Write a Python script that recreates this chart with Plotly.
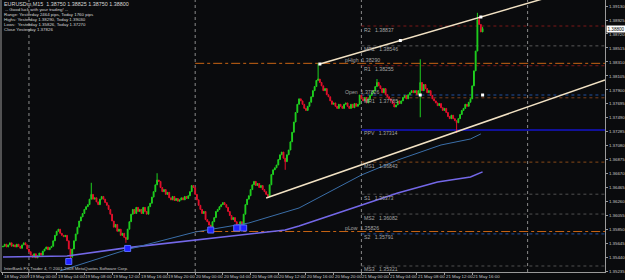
import plotly.graph_objects as go

# ---------------- data (EURUSDm, M15) ----------------
closes = [
    1.3561, 1.3564, 1.3560, 1.3563, 1.3566, 1.3561,
    1.3563, 1.3560, 1.3564, 1.3561, 1.3558, 1.3563,
    1.3566, 1.3563, 1.3557, 1.3553,
    1.3548, 1.3545, 1.3550, 1.3544, 1.3547, 1.3551, 1.3548,
    1.3554, 1.3557, 1.3560, 1.3556, 1.3559, 1.3561,
    1.3569, 1.3577, 1.3583, 1.3586, 1.3580, 1.3577,
    1.3575, 1.3577, 1.3569, 1.3557, 1.3545,
    1.3557, 1.3569, 1.3579, 1.3589, 1.3598,
    1.3604, 1.3609, 1.3615, 1.3619, 1.3622, 1.3630, 1.3637,
    1.3630, 1.3632, 1.3626, 1.3622, 1.3630, 1.3634, 1.3630,
    1.3625, 1.3621, 1.3615, 1.3608, 1.3598, 1.3589,
    1.3593, 1.3583, 1.3586, 1.3577, 1.3580, 1.3574, 1.3571,
    1.3586, 1.3597, 1.3608, 1.3615, 1.3609, 1.3618, 1.3612,
    1.3615, 1.3609, 1.3618, 1.3612, 1.3608, 1.3619, 1.3624,
    1.3633, 1.3641, 1.3651, 1.3658,
    1.3656, 1.3647, 1.3641, 1.3644, 1.3637, 1.3640,
    1.3632, 1.3629, 1.3634, 1.3628, 1.3631, 1.3627, 1.3629, 1.3632,
    1.3629, 1.3634, 1.3631, 1.3635, 1.3641, 1.3650, 1.3647,
    1.3637, 1.3629, 1.3621, 1.3615, 1.3609, 1.3612, 1.3600,
    1.3597, 1.3592, 1.3589, 1.3597, 1.3603,
    1.3612, 1.3615, 1.3619, 1.3622, 1.3625, 1.3622, 1.3618,
    1.3612, 1.3606, 1.3600, 1.3603, 1.3597, 1.3593, 1.3592,
    1.3597, 1.3592, 1.3608, 1.3622, 1.3630,
    1.3635, 1.3644, 1.3651, 1.3656, 1.3650, 1.3653,
    1.3647, 1.3650, 1.3644, 1.3641, 1.3637, 1.3634,
    1.3651, 1.3666, 1.3673, 1.3676, 1.3680, 1.3688,
    1.3695, 1.3699, 1.3690, 1.3685, 1.3695, 1.3702,
    1.3714, 1.3728, 1.3743, 1.3757, 1.3769,
    1.3777, 1.3774, 1.3769, 1.3763, 1.3760, 1.3766,
    1.3772, 1.3780, 1.3789, 1.3795, 1.3804, 1.3806,
    1.3801, 1.3796, 1.3789, 1.3792, 1.3783, 1.3780,
    1.3774, 1.3769, 1.3771, 1.3766, 1.3763, 1.3769,
    1.3766, 1.3763, 1.3769, 1.3771, 1.3766, 1.3763,
    1.3769, 1.3764, 1.3770, 1.3766, 1.3769, 1.37826,
    1.3777, 1.3774, 1.3779, 1.3771, 1.3777, 1.3782, 1.3786,
    1.3789, 1.3795, 1.3801, 1.3796, 1.3792,
    1.3786, 1.3792, 1.3783, 1.3780, 1.3777, 1.3774,
    1.3770, 1.3765, 1.3768, 1.3774, 1.3770, 1.3774,
    1.3779, 1.3782, 1.3777, 1.3783, 1.3786, 1.3789,
    1.3786, 1.3789, 1.3783, 1.3789, 1.3801,
    1.3789, 1.3798, 1.3792, 1.3786, 1.3789, 1.3782,
    1.3777, 1.3774, 1.3771, 1.3767, 1.3770, 1.3764,
    1.3760, 1.3763, 1.3757, 1.3751, 1.3748, 1.3753,
    1.3748, 1.3745, 1.3742, 1.3748, 1.3754,
    1.3760, 1.3763, 1.3769, 1.3766, 1.3772, 1.3777,
    1.3796, 1.3818, 1.3847, 1.3893, 1.3886, 1.38750, 1.38800,
]
first_open = 1.3560
wick_high = {51: 1.3654, 89: 1.3668, 182: 1.38290, 216: 1.3806, 241: 1.3835,
             274: 1.39030, 275: 1.3896, 277: 1.38825}
wick_low = {39: 1.3542, 71: 1.3566, 120: 1.35826, 135: 1.3588, 163: 1.3673,
            241: 1.3750, 262: 1.37270, 277: 1.38750}

# time axis (bar index -> label)
time_tick_bars = [0, 15, 31, 47, 63, 79, 95, 111, 127, 143, 159, 175, 191,
                  207, 223, 239, 255, 271]
time_tick_text = ["18 May 2009", "19 May 00:00", "19 May 04:00", "19 May 08:00",
                  "19 May 12:00", "19 May 16:00", "19 May 20:00", "20 May 00:00",
                  "20 May 04:00", "20 May 08:00", "20 May 12:00", "20 May 16:00",
                  "20 May 20:00", "21 May 00:00", "21 May 04:00", "21 May 08:00",
                  "21 May 12:00", "21 May 16:00"]
day_start_bars = [15, 111, 207, 303]

# price axis labels
price_ticks = [1.39130, 1.38925, 1.38720, 1.38515, 1.38310, 1.38105, 1.37900,
               1.37695, 1.37490, 1.37285, 1.37080, 1.36875, 1.36670, 1.36465,
               1.36260, 1.36055, 1.35850, 1.35645, 1.35440, 1.35235]
price_tick_text = ["%.5f" % v for v in price_ticks]

# moving averages
ma_slow_bars = [0, 37, 71, 111, 163, 171, 207, 228, 251, 270, 277]
ma_slow_vals = [1.35453, 1.35468, 1.35586, 1.35703, 1.35849, 1.35908, 1.36215,
                1.36391, 1.36552, 1.36626, 1.36700]
ma_fast_bars = [33, 40, 71, 111, 142, 171, 207, 228, 253, 270, 276]
ma_fast_vals = [1.35250, 1.35306, 1.35556, 1.35819, 1.35951, 1.36171, 1.36654,
                1.36874, 1.37094, 1.37182, 1.37256]

# fractal markers
fractal_bars = [38, 72, 120, 135, 139]
fractal_vals = [1.35387, 1.35578, 1.35848, 1.35878, 1.35878]

# Fibonacci pivots for 21 May
pivot_names = ["R2", "MR2", "R1", "MR1", "PPV", "MS1", "S1", "MS2", "S2", "MS3"]
pivot_vals = [1.38837, 1.38546, 1.38255, 1.37785, 1.37314, 1.36843, 1.36373,
              1.36082, 1.35791, 1.35321]
prev_high, prev_low, today_open = 1.38290, 1.35826, 1.37826
current_price = 1.38800

# trend lines (bar, price anchors)
upper_tl_bars = [183, 276]
upper_tl_vals = [1.38280, 1.38969]
lower_tl_bars = [152, 320]
lower_tl_vals = [1.36317, 1.37801]
open_dot_bars = [241, 277]

header_lines = [
    "EURUSDm,M15  1.38750 1.38825 1.38750 1.38800",
    " -- Good luck with your trading! --",
    "Range: Yesterday 2464 pips, Today 1760 pips",
    "Highs: Yesterday 1.38290, Today 1.39030",
    "Lows:  Yesterday 1.35826, Today 1.37270",
    "Close Yesterday 1.37826",
]

# ---------------- build ----------------
X_MIN, X_MAX = -1.15, 347.7
Y_MIN, Y_MAX = 1.35233, 1.39218
BG = "#0a0b0d"
FONT = "Liberation Sans, Arial, sans-serif"

bars = list(range(len(closes)))
opens = [first_open] + closes[:-1]
highs = [max(o, c, wick_high.get(i, 0.0)) for i, (o, c) in enumerate(zip(opens, closes))]
lows = [min(o, c, wick_low.get(i, 9.0)) for i, (o, c) in enumerate(zip(opens, closes))]

fig = go.Figure()

fig.add_trace(go.Scatter(x=ma_slow_bars, y=ma_slow_vals, mode="lines",
                         line=dict(color="#7468e8", width=1.6), hoverinfo="skip"))
fig.add_trace(go.Scatter(x=ma_fast_bars, y=ma_fast_vals, mode="lines",
                         line=dict(color="#3a6ea8", width=1), hoverinfo="skip"))

fig.add_trace(go.Candlestick(
    x=bars, open=opens, high=highs, low=lows, close=closes,
    increasing=dict(line=dict(color="#1fd01f", width=1), fillcolor="#1fd01f"),
    decreasing=dict(line=dict(color="#e3102c", width=1), fillcolor="#e3102c"),
    whiskerwidth=0, hoverinfo="skip"))


def extend(bx, vy):
    slope = (vy[1] - vy[0]) / (bx[1] - bx[0])
    return [bx[0], X_MAX], [vy[0], vy[0] + slope * (X_MAX - bx[0])], slope


ux, uy, us = extend(upper_tl_bars, upper_tl_vals)
lx, ly, ls = extend(lower_tl_bars, lower_tl_vals)
for xx, yy in ((ux, uy), (lx, ly)):
    fig.add_trace(go.Scatter(x=xx, y=yy, mode="lines",
                             line=dict(color="#f2e2c4", width=1.5), hoverinfo="skip"))

dot_bars = [upper_tl_bars[0], (upper_tl_bars[0] + upper_tl_bars[1]) / 2, upper_tl_bars[1]]
dot_vals = [upper_tl_vals[0] + us * (b - upper_tl_bars[0]) for b in dot_bars]
fig.add_trace(go.Scatter(x=dot_bars + open_dot_bars,
                         y=dot_vals + [today_open] * len(open_dot_bars),
                         mode="markers", marker=dict(symbol="square", size=3, color="#ffffff"),
                         hoverinfo="skip"))

fig.add_trace(go.Scatter(x=fractal_bars, y=fractal_vals, mode="markers",
                         marker=dict(symbol="square", size=6, color="#2020ff",
                                     line=dict(color="#5a6cff", width=1)),
                         hoverinfo="skip"))

shapes = []
for b in day_start_bars:
    shapes.append(dict(type="line", xref="x", yref="paper", x0=b, x1=b, y0=0, y1=1,
                       line=dict(color="#8a8a8a", width=1, dash="dot"), layer="below"))

pivot_styles = {
    "R2": ("#7a1818", "dot", 1), "MR2": ("#5a5a5a", "dot", 1),
    "R1": ("#7a1818", "dot", 1), "MR1": ("#7a4020", "dot", 1),
    "PPV": ("#1414c8", "solid", 1.5), "MS1": ("#8a4a18", "dot", 1),
    "S1": ("#505050", "dot", 1), "MS2": ("#505050", "dot", 1),
    "S2": ("#2050a0", "dot", 1), "MS3": ("#505050", "dot", 1),
}
today_bar = day_start_bars[2]
yest_bar = day_start_bars[1]
for n, v in zip(pivot_names, pivot_vals):
    c, d, w = pivot_styles[n]
    shapes.append(dict(type="line", xref="x", yref="y", x0=today_bar, x1=X_MAX, y0=v, y1=v,
                       line=dict(color=c, width=w, dash=d), layer="below"))
shapes.append(dict(type="line", xref="x", yref="y", x0=today_bar, x1=X_MAX,
                   y0=today_open, y1=today_open,
                   line=dict(color="#2050a0", width=1, dash="dot"), layer="below"))
for v in (prev_high, prev_low):
    shapes.append(dict(type="line", xref="x", yref="y", x0=yest_bar, x1=X_MAX, y0=v, y1=v,
                       line=dict(color="#c86414", width=1, dash="dashdot"), layer="below"))
# left frame line
shapes.append(dict(type="line", xref="paper", yref="paper", x0=0, x1=0, y0=0, y1=1,
                   line=dict(color="#9a9a9a", width=1)))

ann = []
GRAY = "#a4a4a4"
for n, v in zip(pivot_names, pivot_vals):
    ann.append(dict(x=today_bar, y=v, xref="x", yref="y", xanchor="left", yanchor="middle",
                    xshift=1, yshift=-3.5, showarrow=False, text="%s   %.5f" % (n, v),
                    font=dict(size=5.2, color=GRAY, family=FONT)))
for lab, v in (("pHigh", prev_high), ("Open", today_open), ("pLow", prev_low)):
    ann.append(dict(x=today_bar, y=v, xref="x", yref="y", xanchor="left", yanchor="middle",
                    xshift=-18, yshift=3.2, showarrow=False, text="%s  %.5f" % (lab, v),
                    font=dict(size=5.2, color=GRAY, family=FONT)))

for b, t in zip(time_tick_bars, time_tick_text):
    ann.append(dict(x=b, y=0, xref="x", yref="paper", xanchor="left", yanchor="middle",
                    xshift=-1, yshift=-4.5, showarrow=False, text=t,
                    font=dict(size=4.4, color="#c8c8c8", family=FONT)))

centers = [4, 9.5, 14.7, 19.6, 24.6, 29.5]
for i, (t, cy) in enumerate(zip(header_lines, centers)):
    ann.append(dict(x=0, y=1, xref="paper", yref="paper", xanchor="left", yanchor="middle",
                    xshift=1, yshift=-cy, showarrow=False, text=t.replace(" ", "&nbsp;") if i == 1 else t,
                    font=dict(size=5.4 if i == 0 else 4.4, color="#d6d6d6", family=FONT)))

ann.append(dict(x=0, y=0, xref="paper", yref="paper", xanchor="left", yanchor="middle",
                xshift=1, yshift=4, showarrow=False,
                text="InterBank FX Trader 4, \u00a9 2001-2008 MetaQuotes Software Corp.",
                font=dict(size=4.3, color="#c8c8c8", family=FONT)))

ann.append(dict(x=1, y=current_price, xref="paper", yref="y", xanchor="left", yanchor="middle",
                xshift=1, showarrow=False, text="%.5f" % current_price, bgcolor="#ffffff",
                borderpad=0.5, font=dict(size=4.6, color="#000000", family=FONT)))

fig.update_layout(
    width=625, height=280,
    margin=dict(l=1, r=17, t=0, b=8),
    paper_bgcolor=BG, plot_bgcolor=BG,
    showlegend=False,
    shapes=shapes, annotations=ann,
    xaxis=dict(range=[X_MIN, X_MAX], showgrid=False, zeroline=False,
               showline=True, linecolor="#9a9a9a", linewidth=1,
               tickvals=time_tick_bars, showticklabels=False,
               ticks="outside", ticklen=2, tickcolor="#9a9a9a",
               rangeslider=dict(visible=False), fixedrange=True),
    yaxis=dict(range=[Y_MIN, Y_MAX], side="right", showgrid=False, zeroline=False,
               showline=True, linecolor="#9a9a9a", linewidth=1,
               tickvals=price_ticks, ticktext=price_tick_text,
               ticks="outside", ticklen=2, tickcolor="#9a9a9a",
               tickfont=dict(size=4.4, color="#c8c8c8", family=FONT), fixedrange=True),
)

fig.write_html("out.html")
